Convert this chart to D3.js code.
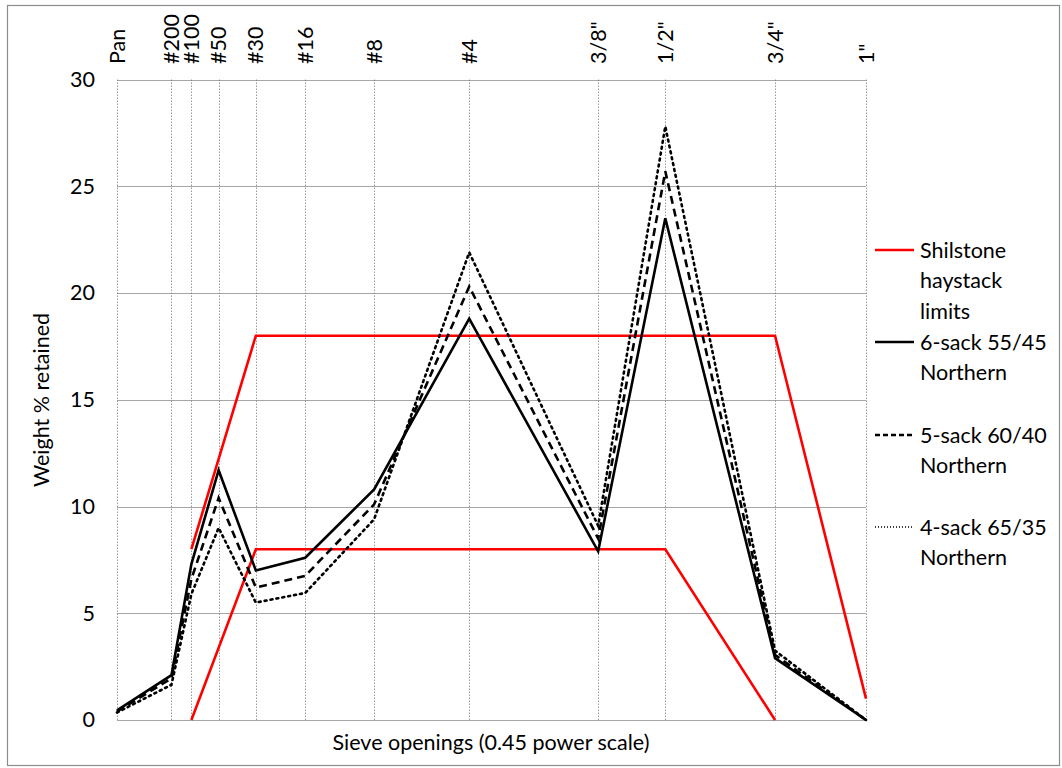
<!DOCTYPE html>
<html><head><meta charset="utf-8">
<script src="https://cdn.jsdelivr.net/npm/d3@7"></script>
<style>body{margin:0;background:#fff;} text{font-family:Lato, "Open Sans", sans-serif;}</style>
</head><body>
<svg id="c" width="1062" height="768"></svg>
<script>
const sieveLabels = ["Pan","#200","#100","#50","#30","#16","#8","#4","3/8\"","1/2\"","3/4\"","1\""];
const sieveSizes = [0,0.075,0.15,0.3,0.6,1.18,2.36,4.75,9.5,12.7,19.05,25.4];
const sixSack = [0.45,2.1,7.3,11.7,7.0,7.6,10.8,18.8,7.9,23.5,2.9,0];
const fiveSack = [0.4,1.95,6.6,10.4,6.2,6.75,10.1,20.3,8.5,25.7,3.05,0];
const fourSack = [0.35,1.65,5.9,9.0,5.5,5.95,9.4,21.9,9.1,27.8,3.25,0];
const upperLimitX = [0.15,0.6,19.05,25.4];
const upperLimitY = [8,18,18,1];
const lowerLimitX = [0.15,0.6,12.7,19.05];
const lowerLimitY = [0,8,8,0];
const yTicks = [0,5,10,15,20,25,30];

const svg = d3.select("#c");
const L=117, R=866, T=79.5, B=720;
const FS = 21.5;
const x = d3.scalePow().exponent(0.45).domain([0,25.4]).range([L,R]);
const y = d3.scaleLinear().domain([0,30]).range([B,T]);

// outer border
svg.append("rect").attr("x",7.5).attr("y",5.5).attr("width",1052).attr("height",760)
  .attr("fill","#fff").attr("stroke","#8c8c8c").attr("stroke-width",1.2);

// horizontal grid
svg.append("g").selectAll("line").data(yTicks).join("line")
  .attr("x1",L).attr("x2",R).attr("y1",d=>Math.round(y(d))+0.5).attr("y2",d=>Math.round(y(d))+0.5)
  .attr("stroke","#a6a6a6").attr("stroke-width",1);
// vertical grid (dotted)
svg.append("g").selectAll("line").data(sieveSizes).join("line")
  .attr("x1",d=>Math.round(x(d))+0.5).attr("x2",d=>Math.round(x(d))+0.5).attr("y1",T).attr("y2",B)
  .attr("stroke","#808080").attr("stroke-width",0.8).attr("stroke-dasharray","1.5,1.5");

// y axis labels
const yAxis = d3.axisLeft(y).tickValues(yTicks).tickSize(0).tickPadding(22);
const ga = svg.append("g").attr("transform",`translate(${L},0)`).call(yAxis);
ga.select(".domain").remove();
ga.selectAll("text").attr("font-size",FS).attr("fill","#000").style("font-family","Lato, 'Open Sans', sans-serif");

// top rotated labels
svg.append("g").selectAll("text").data(sieveLabels).join("text")
  .attr("transform",(d,i)=>`translate(${x(sieveSizes[i])+7.5},64) rotate(-90)`)
  .attr("text-anchor","start").attr("font-size",FS).attr("fill","#000").text(d=>d);

// axis titles
svg.append("text").attr("x",491).attr("y",750).attr("text-anchor","middle").attr("font-size",FS).text("Sieve openings (0.45 power scale)");
svg.append("text").attr("transform","translate(49,400) rotate(-90)").attr("text-anchor","middle").attr("font-size",FS).text("Weight % retained");

const line = d3.line().x(d=>x(d[0])).y(d=>y(d[1]));
const red = "#ff0000";
svg.append("path").datum(upperLimitX.map((v,i)=>[v,upperLimitY[i]])).attr("d",line)
  .attr("fill","none").attr("stroke",red).attr("stroke-width",2.6);
svg.append("path").datum(lowerLimitX.map((v,i)=>[v,lowerLimitY[i]])).attr("d",line)
  .attr("fill","none").attr("stroke",red).attr("stroke-width",2.6);

const series = [
  {vals:fourSack, dash:"2,4", w:2.6, cap:"round"},
  {vals:fiveSack, dash:"8,5", w:2.6, cap:"butt"},
  {vals:sixSack, dash:null, w:2.6, cap:"butt"}
];
series.forEach(s=>{
  svg.append("path").datum(s.vals.map((v,i)=>[sieveSizes[i],v])).attr("d",line)
    .attr("fill","none").attr("stroke","#000").attr("stroke-width",s.w)
    .attr("stroke-dasharray",s.dash).attr("stroke-linecap",s.cap).attr("stroke-linejoin","miter");
});

// legend
const leg = [
  {lines:["Shilstone","haystack","limits"], y:250, color:red, dash:null},
  {lines:["6-sack 55/45","Northern"], y:342, color:"#000", dash:null},
  {lines:["5-sack 60/40","Northern"], y:435, color:"#000", dash:"5,3"},
  {lines:["4-sack 65/35","Northern"], y:527, color:"#000", dash:"1,2"}
];
leg.forEach(l=>{
  svg.append("line").attr("x1",875).attr("x2",914).attr("y1",l.y).attr("y2",l.y)
    .attr("stroke",l.color).attr("stroke-width",l.dash==="1,2"?1.5:2.6).attr("stroke-dasharray",l.dash);
  l.lines.forEach((t,i)=>{
    svg.append("text").attr("x",920).attr("y",l.y+7.5+i*30.5).attr("font-size",FS).attr("fill","#000").text(t);
  });
});
</script>
</body></html>
